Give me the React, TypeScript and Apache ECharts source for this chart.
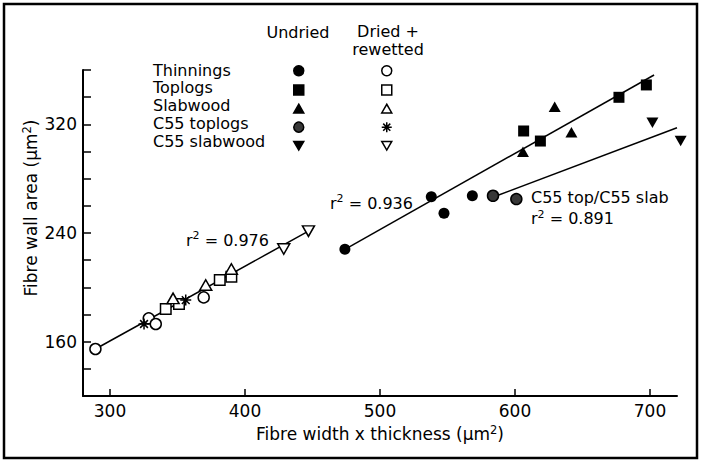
import { useEffect, useRef } from 'react';
import * as echarts from 'echarts';

const FONT = 'DejaVu Sans';

// axes
const xRange = [280, 720];
const yRange = [120, 360];
const xTickValues = [300, 400, 500, 600, 700];
const yLabelValues = [160, 240, 320];

// legend
const legendLabels = ['Thinnings', 'Toplogs', 'Slabwood', 'C55 toplogs', 'C55 slabwood'];

// undried data (filled symbols)
const thinningsUndried = [[474, 228], [538, 266.7], [547.4, 254.5], [568.4, 267.4]];
const toplogsUndried = [[606.4, 315.1], [618.8, 307.7], [677, 339.9], [697.3, 349]];
const slabwoodUndried = [[605.9, 299.8], [629.4, 333], [641.8, 314.1]];
const c55ToplogsUndried = [[583.7, 267.4], [601, 265]];
const c55SlabwoodUndried = [[701.8, 321.2], [722.7, 307.7]];

// dried + rewetted data (open symbols)
const thinningsDried = [[289.2, 154.6], [328.7, 177.2], [333.9, 173], [369.4, 192.6]];
const toplogsDried = [[341.3, 184], [351.1, 187.7], [381.3, 205.4], [389.9, 207.8]];
const slabwoodDried = [[346.7, 191.9], [370.9, 201.7], [389.9, 213.5]];
const c55ToplogsDried = [[325.2, 173], [356.1, 190.6]];
const c55SlabwoodDried = [[428.7, 228.2], [447, 241.4]];

// regression lines (end points)
const fitDried = [[289.2, 154.6], [447, 241.4]];
const fitUndried = [[474, 228], [703, 356.3]];
const fitC55 = [[584, 266.5], [720, 317.5]];

const TRI_UP = 'path://M5,0L10,8.66L0,8.66Z';
const TRI_DOWN = 'path://M0,0L10,0L5,8.66Z';
const STAR = 'path://M5,0L5,10M0,5L10,5M1.46,1.46L8.54,8.54M8.54,1.46L1.46,8.54';

const undriedSeries = [
  { name: 'Thinnings', data: thinningsUndried, symbol: 'circle', size: 11, fill: '#000' },
  { name: 'Toplogs', data: toplogsUndried, symbol: 'rect', size: 11, fill: '#000' },
  { name: 'Slabwood', data: slabwoodUndried, symbol: TRI_UP, size: [12, 10.5], fill: '#000' },
  { name: 'C55 toplogs', data: c55ToplogsUndried, symbol: 'circle', size: 11, fill: '#383838' },
  { name: 'C55 slabwood', data: c55SlabwoodUndried, symbol: TRI_DOWN, size: [12, 10.5], fill: '#000' },
];
const driedSeries = [
  { name: 'Thinnings (dried + rewetted)', data: thinningsDried, symbol: 'circle', size: 11, fill: '#fff' },
  { name: 'Toplogs (dried + rewetted)', data: toplogsDried, symbol: 'rect', size: 10.5, fill: '#fff' },
  { name: 'Slabwood (dried + rewetted)', data: slabwoodDried, symbol: TRI_UP, size: [12, 10.5], fill: '#fff' },
  { name: 'C55 toplogs (dried + rewetted)', data: c55ToplogsDried, symbol: STAR, size: 11, fill: '#000' },
  { name: 'C55 slabwood (dried + rewetted)', data: c55SlabwoodDried, symbol: TRI_DOWN, size: [12, 10.5], fill: '#fff' },
];

const rich = {
  a: { fontFamily: FONT, fontSize: 16, lineHeight: 20, color: '#000' },
  s: { fontFamily: FONT, fontSize: 11, lineHeight: 11, color: '#000', verticalAlign: 'top' },
};
const richTitle = {
  a: { fontFamily: FONT, fontSize: 17, lineHeight: 21, color: '#000' },
  s: { fontFamily: FONT, fontSize: 11.5, lineHeight: 12, color: '#000', verticalAlign: 'top' },
};

function txt(text: string, x: number, y: number, align = 'left') {
  return {
    type: 'text',
    x,
    y,
    silent: true,
    style: { text, rich, align, verticalAlign: 'middle', fontFamily: FONT, fontSize: 16, fill: '#000' },
  };
}

export default function App() {
  const ref = useRef<HTMLDivElement>(null);
  useEffect(() => {
    const chart = echarts.init(ref.current!, null, { renderer: 'svg' });

    const scatter = (s: any, hollow: boolean) => ({
      type: 'scatter',
      name: s.name,
      data: s.data,
      symbol: s.symbol,
      symbolSize: s.size,
      clip: false,
      z: 3,
      itemStyle: {
        color: s.fill,
        borderColor: '#000',
        borderWidth: hollow || s.symbol === STAR || s.fill !== '#000' ? 1.5 : 0,
        opacity: 1,
      },
      emphasis: { disabled: true },
    });
    const line = (data: number[][]) => ({
      type: 'line',
      data,
      symbol: 'none',
      silent: true,
      z: 2,
      lineStyle: { color: '#000', width: 1.5 },
    });

    const legendBase = {
      orient: 'vertical',
      top: 65,
      padding: 0,
      itemWidth: 10,
      itemHeight: 10,
      itemGap: 7.75,
      selectedMode: false,
      formatter: () => '',
      textStyle: { fontSize: 8, lineHeight: 10 },
      itemStyle: { borderWidth: 1.5, borderColor: '#000' },
    };

    const graphic: any[] = [
      {
        type: 'rect',
        silent: true,
        shape: { x: 4, y: 4, width: 693, height: 454 },
        style: { fill: 'none', stroke: '#000', lineWidth: 2.5 },
      },
      txt('Undried', 298, 32, 'center'),
      txt('Dried +', 388, 31, 'center'),
      {
        type: 'text',
        x: 388,
        y: 49,
        silent: true,
        style: {
          text: 'rewetted',
          align: 'center',
          verticalAlign: 'middle',
          fontFamily: FONT,
          fontSize: 16,
          lineHeight: 17,
          fill: '#000',
        },
      },
      ...legendLabels.map((l, i) => txt(l, 153, 70 + i * 17.75)),
      txt('{a|r}{s|2}{a| = 0.976}', 186, 240),
      txt('{a|r}{s|2}{a| = 0.936}', 330, 203),
      txt('C55 top/C55 slab', 531, 197),
      txt('{a|r}{s|2}{a| = 0.891}', 531, 218.5),
      {
        type: 'text',
        x: 31,
        y: 208,
        rotation: Math.PI / 2,
        silent: true,
        style: {
          text: '{a|Fibre wall area (µm}{s|2}{a|)}',
          rich: richTitle,
          align: 'center',
          verticalAlign: 'middle',
        },
      },
    ];

    chart.setOption({
      animation: false,
      backgroundColor: '#fff',
      grid: { left: 83, top: 70, width: 594, height: 326 },
      legend: [
        { ...legendBase, left: 293, data: undriedSeries.map((s) => s.name) },
        { ...legendBase, left: 381, data: driedSeries.map((s) => s.name) },
      ],
      xAxis: {
        type: 'value',
        min: xRange[0],
        max: xRange[1],
        splitLine: { show: false },
        axisLine: { lineStyle: { color: '#000', width: 2 } },
        axisTick: { inside: true, length: 7, lineStyle: { color: '#000', width: 1.5 }, customValues: xTickValues },
        axisLabel: { customValues: xTickValues, margin: 6, color: '#000', fontFamily: FONT, fontSize: 17 },
        name: '{a|Fibre width x thickness (µm}{s|2}{a|)}',
        nameLocation: 'middle',
        nameGap: 26,
        nameTextStyle: { rich: richTitle },
      },
      yAxis: {
        type: 'value',
        min: yRange[0],
        max: yRange[1],
        interval: 20,
        splitLine: { show: false },
        axisLine: { lineStyle: { color: '#000', width: 2 } },
        axisTick: { inside: true, length: 8, lineStyle: { color: '#000', width: 1.5 } },
        axisLabel: { customValues: yLabelValues, margin: 6, color: '#000', fontFamily: FONT, fontSize: 17 },
      },
      graphic,
      series: [
        line(fitDried),
        line(fitUndried),
        line(fitC55),
        ...undriedSeries.map((s) => scatter(s, false)),
        ...driedSeries.map((s) => scatter(s, s.fill === '#fff')),
      ],
    });
    return () => chart.dispose();
  }, []);
  return <div ref={ref} style={{ position: 'absolute', left: 0, top: 0, width: 701, height: 461 }} />;
}
